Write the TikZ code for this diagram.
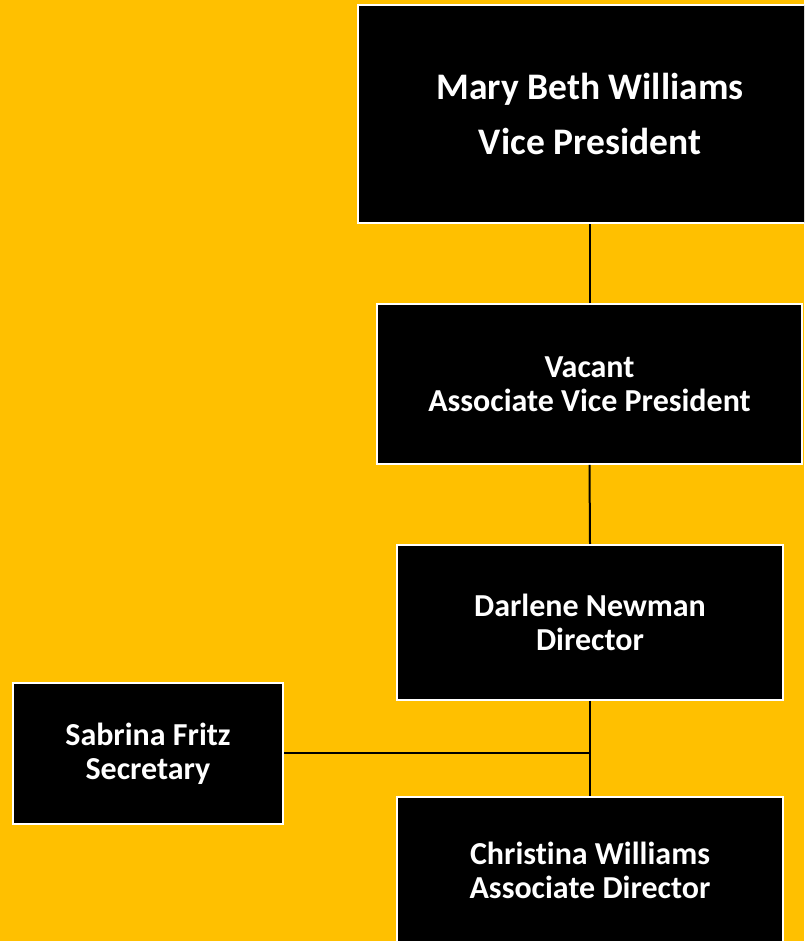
\documentclass[tikz,border=0pt]{standalone}
\usepackage{fontspec}
\setmainfont{Carlito}[Ligatures={NoCommon}]
\definecolor{bgyellow}{HTML}{FFC000}
\begin{document}
\begin{tikzpicture}[x=1pt,y=1pt,
  orgbox/.style={draw=white, line width=2pt, fill=black, text=white, inner sep=0pt, align=center, font=\bfseries\fontsize{32}{34}\selectfont},
  bigbox/.style={orgbox, font=\bfseries\fontsize{37.5}{55}\selectfont},
  conn/.style={draw=black, line width=2pt}]
\useasboundingbox (0,0) rectangle (804,941);
\clip (0,0) rectangle (804,941);
\fill[bgyellow] (0,0) rectangle (804,941);
\node[bigbox, minimum width=464pt, minimum height=218pt] (vp) at (590,827) {Mary Beth Williams\\Vice President};
\node[orgbox, minimum width=425pt, minimum height=160pt] (avp) at (589.5,557) {Vacant\\Associate Vice President};
\node[orgbox, minimum width=386pt, minimum height=155pt] (dir) at (590,318.5) {Darlene Newman\\Director};
\node[orgbox, minimum width=386pt, minimum height=147pt] (ad) at (590,70.5) {Christina Williams\\Associate Director};
\node[orgbox, minimum width=270pt, minimum height=141pt] (sec) at (148,187.5) {Sabrina Fritz\\Secretary};
\coordinate (j) at (sec.east -| dir.south);
\draw[conn] (avp.north) -- (avp.north |- vp.south);
\draw[conn] (avp.south) -- (dir.north);
\draw[conn] (dir.south) -- (ad.north);
\draw[conn] (sec.east) -- (j);
\end{tikzpicture}
\end{document}
